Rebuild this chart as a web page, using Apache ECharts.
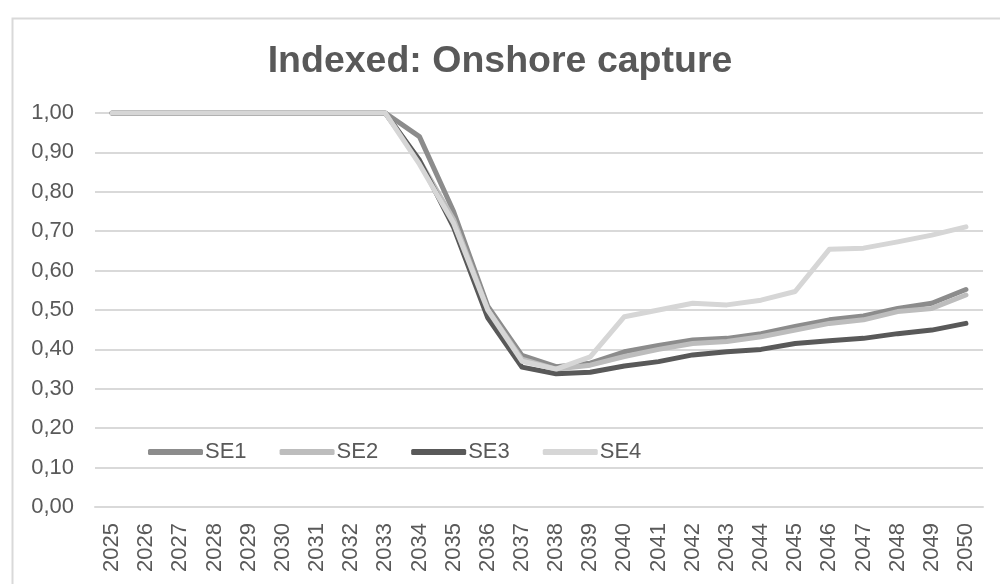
<!DOCTYPE html>
<html>
<head>
<meta charset="utf-8">
<script src="https://cdn.jsdelivr.net/npm/echarts@6/dist/echarts.min.js"></script>
<style>
html,body{margin:0;padding:0;background:#fff;}
#chart{width:1000px;height:584px;}
</style>
</head>
<body>
<div id="chart"></div>
<script>
const years = ['2025','2026','2027','2028','2029','2030','2031','2032','2033','2034','2035','2036','2037','2038','2039','2040','2041','2042','2043','2044','2045','2046','2047','2048','2049','2050'];
const SE1 = [1,1,1,1,1,1,1,1,1, 0.94, 0.75, 0.51, 0.385, 0.356, 0.365, 0.394, 0.41, 0.424, 0.428, 0.44, 0.458, 0.475, 0.485, 0.504, 0.517, 0.552];
const SE2 = [1,1,1,1,1,1,1,1,1, 0.88, 0.73, 0.50, 0.375, 0.35, 0.36, 0.382, 0.40, 0.415, 0.42, 0.432, 0.449, 0.466, 0.475, 0.496, 0.504, 0.538];
const SE3 = [1,1,1,1,1,1,1,1,1, 0.88, 0.71, 0.48, 0.355, 0.338, 0.342, 0.358, 0.369, 0.386, 0.394, 0.40, 0.415, 0.422, 0.428, 0.44, 0.449, 0.466];
const SE4 = [1,1,1,1,1,1,1,1,1, 0.87, 0.72, 0.50, 0.37, 0.35, 0.381, 0.483, 0.50, 0.517, 0.513, 0.525, 0.547, 0.654, 0.657, 0.673, 0.69, 0.711];
const seriesNames = ['SE1','SE2','SE3','SE4'];
const seriesData = [SE1, SE2, SE3, SE4];
const colors = ['#8c8c8c','#bdbdbd','#595959','#d6d6d6'];

const FONT = '"Liberation Sans", Arial, sans-serif';
const chart = echarts.init(document.getElementById('chart'), null, {renderer:'canvas'});
chart.setOption({
  animation: false,
  backgroundColor: '#ffffff',
  graphic: [{
    type: 'rect', left: 10, top: 16, z: 0,
    shape: {width: 1000, height: 620},
    style: {fill: 'none', stroke: '#d9d9d9', lineWidth: 2}
  }],
  title: {
    text: 'Indexed: Onshore capture',
    left: 'center', top: 38,
    textStyle: {color: '#595959', fontSize: 37.5, fontWeight: 'bold', fontFamily: FONT}
  },
  legend: {
    left: 143, top: 436,
    icon: 'roundRect',
    itemWidth: 55, itemHeight: 6, itemGap: 33,
    textStyle: {color: '#595959', fontSize: 22, fontFamily: FONT, padding: [0,0,0,-3]},
    data: seriesNames
  },
  grid: {left: 95, right: 17, top: 113, bottom: 77, containLabel: false},
  xAxis: {
    type: 'category', data: years, boundaryGap: true,
    axisTick: {show: false},
    axisLine: {lineStyle: {color: '#d9d9d9', width: 2}},
    axisLabel: {rotate: 90, margin: 16, color: '#595959', fontSize: 22, fontFamily: FONT, interval: 0}
  },
  yAxis: {
    type: 'value', min: 0, max: 1, interval: 0.1,
    axisLine: {show: false}, axisTick: {show: false},
    splitLine: {lineStyle: {color: '#d9d9d9', width: 2}},
    axisLabel: {margin: 21, color: '#595959', fontSize: 22, fontFamily: FONT,
      formatter: v => v.toFixed(2).replace('.', ',')}
  },
  series: seriesNames.map((n, i) => ({
    name: n, type: 'line', data: seriesData[i],
    symbol: 'none', smooth: false,
    color: colors[i],
    lineStyle: {color: colors[i], width: 5, cap: 'round', join: 'round'},
    itemStyle: {color: colors[i]}
  }))
});
</script>
</body>
</html>
